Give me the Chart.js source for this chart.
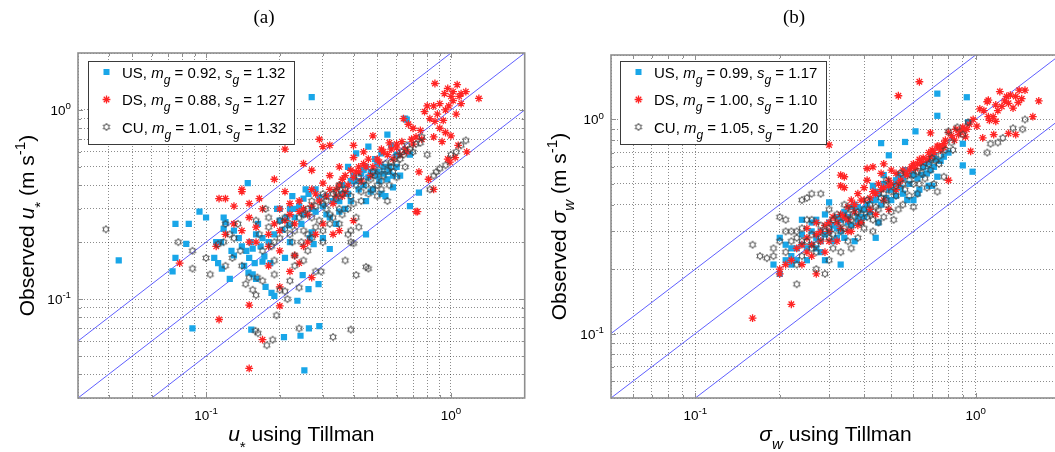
<!DOCTYPE html>
<html>
<head>
<meta charset="utf-8">
<script src="https://cdn.jsdelivr.net/npm/chart.js@4.4.1/dist/chart.umd.min.js"></script>
<style>
  html, body { margin: 0; padding: 0; background: #fff; overflow: hidden; }
  body { width: 1055px; height: 452px; position: relative; }
  .panel { position: absolute; top: 0; }
  #panelA { left: 0; }
  #panelB { left: 530px; }
</style>
</head>
<body>
<div class="panel" id="panelA"><canvas id="chartA" width="530" height="452"></canvas></div>
<div class="panel" id="panelB"><canvas id="chartB" width="540" height="452"></canvas></div>
<script>
// friction velocity, observed vs Tillman estimate
const usA = [[0.044,0.16],[0.073,0.14],[0.075,0.25],[0.085,0.25],[0.075,0.165],[0.083,0.196],[0.094,0.29],[0.1,0.27],[0.088,0.07],[0.11,0.2],[0.115,0.2],[0.108,0.165],[0.112,0.155],[0.116,0.145],[0.118,0.27],[0.12,0.255],[0.118,0.235],[0.125,0.128],[0.127,0.18],[0.13,0.23],[0.136,0.21],[0.149,0.138],[0.143,0.15],[0.148,0.41],[0.146,0.18],[0.15,0.165],[0.152,0.2],[0.155,0.185],[0.158,0.155],[0.16,0.22],[0.163,0.25],[0.167,0.19],[0.17,0.158],[0.173,0.168],[0.175,0.116],[0.18,0.2],[0.183,0.155],[0.19,0.22],[0.195,0.3],[0.2,0.3],[0.205,0.232],[0.21,0.165],[0.213,0.27],[0.218,0.245],[0.225,0.35],[0.232,0.3],[0.24,0.31],[0.245,0.25],[0.25,0.34],[0.255,0.38],[0.262,0.36],[0.265,0.21],[0.27,0.225],[0.275,0.195],[0.28,0.38],[0.29,0.345],[0.3,0.21],[0.31,0.35],[0.32,0.27],[0.32,0.184],[0.34,0.25],[0.35,0.29],[0.36,0.4],[0.37,0.3],[0.38,0.5],[0.39,0.33],[0.41,0.59],[0.4,0.45],[0.42,0.38],[0.43,0.46],[0.45,0.33],[0.45,0.22],[0.46,0.64],[0.46,0.44],[0.47,0.37],[0.48,0.38],[0.49,0.55],[0.5,0.52],[0.51,0.42],[0.52,0.59],[0.52,0.36],[0.54,0.35],[0.55,0.43],[0.55,0.74],[0.56,0.5],[0.57,0.65],[0.58,0.39],[0.6,0.5],[0.62,0.45],[0.65,0.9],[0.66,0.89],[0.68,0.58],[0.68,0.31],[0.74,0.365],[0.27,1.17],[0.252,0.042],[0.153,0.069],[0.208,0.063],[0.243,0.064],[0.263,0.07],[0.29,0.072],[0.19,0.104],[0.236,0.098],[0.262,0.113],[0.288,0.12],[0.248,0.134],[0.185,0.108],[0.155,0.135],[0.16,0.128],[0.22,0.2],[0.23,0.27],[0.28,0.29],[0.3,0.31],[0.33,0.33],[0.36,0.36],[0.4,0.42],[0.44,0.48],[0.5,0.47],[0.53,0.5],[0.35,0.33],[0.38,0.36],[0.42,0.42],[0.44,0.4],[0.47,0.47],[0.5,0.45],[0.53,0.46],[0.56,0.47],[0.58,0.45],[0.6,0.58],[0.31,0.28],[0.27,0.3],[0.25,0.28],[0.22,0.3],[0.2,0.26],[0.17,0.21],[0.14,0.19],[0.13,0.17],[0.45,0.5],[0.39,0.42]];
const dsA = [[0.86,1.38],[0.94,1.22],[0.97,1.3],[1.0,1.18],[1.02,1.12],[1.06,1.36],[1.08,1.18],[1.1,1.22],[1.15,1.25],[1.3,1.15],[0.85,1.05],[0.9,1.08],[0.95,1.0],[0.88,0.95],[0.82,0.9],[0.86,0.87],[0.9,0.8],[0.95,0.76],[1.0,0.73],[0.85,0.72],[0.92,0.68],[1.1,1.08],[1.05,0.95],[0.8,1.05],[0.78,0.98],[0.98,1.05],[1.02,1.25],[0.93,0.88],[0.64,0.9],[0.67,0.84],[0.72,0.72],[0.76,0.7],[0.7,0.66],[0.66,0.6],[0.6,0.63],[0.56,0.67],[0.52,0.62],[0.48,0.73],[0.44,0.6],[0.4,0.56],[1.16,0.6],[0.74,0.47],[0.81,0.43],[0.85,0.38],[0.73,0.29],[0.97,0.55],[1.04,0.56],[0.99,0.53],[1.07,0.65],[0.42,0.5],[0.4,0.44],[0.38,0.4],[0.36,0.43],[0.34,0.38],[0.31,0.35],[0.32,0.45],[0.3,0.41],[0.28,0.36],[0.27,0.38],[0.25,0.3],[0.24,0.33],[0.22,0.28],[0.2,0.3],[0.21,0.26],[0.19,0.25],[0.17,0.3],[0.165,0.34],[0.15,0.32],[0.14,0.37],[0.12,0.34],[0.13,0.31],[0.113,0.34],[0.14,0.38],[0.19,0.43],[0.21,0.37],[0.29,0.7],[0.32,0.65],[0.4,0.65],[0.21,0.62],[0.3,0.64],[0.25,0.52],[0.27,0.48],[0.35,0.5],[0.45,0.5],[0.5,0.55],[0.55,0.58],[0.58,0.55],[0.62,0.58],[0.47,0.45],[0.43,0.42],[0.36,0.35],[0.33,0.32],[0.26,0.28],[0.23,0.25],[0.2,0.23],[0.18,0.22],[0.16,0.24],[0.15,0.27],[0.16,0.2],[0.18,0.19],[0.14,0.23],[0.13,0.25],[0.12,0.22],[0.11,0.19],[0.15,0.2],[0.15,0.093],[0.113,0.078],[0.15,0.043],[0.2,0.092],[0.17,0.061],[0.2,0.116],[0.078,0.155],[0.27,0.13],[0.24,0.155],[0.25,0.19],[0.33,0.22],[0.35,0.23],[0.4,0.26],[0.72,0.29],[0.26,0.2],[0.23,0.17],[0.3,0.25],[0.28,0.22],[0.2,0.18],[0.18,0.15],[0.22,0.14],[0.32,0.38],[0.35,0.4],[0.37,0.45],[0.39,0.48],[0.41,0.47],[0.44,0.52],[0.46,0.55],[0.48,0.5],[0.51,0.53],[0.53,0.6],[0.57,0.62],[0.6,0.66],[0.63,0.68],[0.65,0.62],[0.69,0.7],[0.7,0.8],[0.75,0.78],[0.29,0.33],[0.27,0.31],[0.24,0.29],[0.22,0.32],[0.34,0.35],[0.37,0.37],[0.42,0.47]];
const cuA = [[0.039,0.234],[0.077,0.2],[0.088,0.18],[0.088,0.145],[0.1,0.165],[0.104,0.135],[0.112,0.195],[0.118,0.2],[0.125,0.22],[0.128,0.165],[0.138,0.18],[0.145,0.12],[0.15,0.13],[0.155,0.112],[0.16,0.105],[0.162,0.13],[0.17,0.125],[0.165,0.22],[0.175,0.3],[0.18,0.27],[0.185,0.19],[0.19,0.16],[0.19,0.135],[0.2,0.112],[0.2,0.21],[0.21,0.235],[0.21,0.27],[0.22,0.25],[0.225,0.2],[0.23,0.17],[0.24,0.115],[0.245,0.2],[0.25,0.28],[0.26,0.3],[0.27,0.27],[0.28,0.24],[0.28,0.14],[0.295,0.14],[0.3,0.2],[0.3,0.32],[0.31,0.3],[0.32,0.28],[0.33,0.36],[0.34,0.34],[0.35,0.3],[0.36,0.36],[0.37,0.16],[0.38,0.22],[0.39,0.2],[0.4,0.32],[0.41,0.27],[0.42,0.24],[0.41,0.134],[0.45,0.148],[0.46,0.145],[0.39,0.23],[0.4,0.197],[0.46,0.36],[0.48,0.38],[0.5,0.4],[0.52,0.42],[0.55,0.48],[0.55,0.33],[0.58,0.47],[0.6,0.52],[0.62,0.55],[0.64,0.58],[0.68,0.62],[0.7,0.6],[0.75,0.67],[0.8,0.58],[0.85,0.45],[0.87,0.47],[0.9,0.49],[0.95,0.51],[1.0,0.58],[1.05,0.6],[1.1,0.65],[1.15,0.69],[0.82,0.38],[0.76,0.72],[0.159,0.068],[0.163,0.066],[0.177,0.057],[0.187,0.061],[0.194,0.082],[0.24,0.07],[0.33,0.063],[0.39,0.069],[0.21,0.11],[0.215,0.1],[0.22,0.125],[0.23,0.15],[0.25,0.16],[0.26,0.22],[0.29,0.26],[0.33,0.27],[0.36,0.28],[0.38,0.3],[0.43,0.33],[0.45,0.4],[0.5,0.35],[0.52,0.38],[0.56,0.4],[0.6,0.44],[0.28,0.31],[0.23,0.23],[0.19,0.2],[0.17,0.18],[0.14,0.15],[0.12,0.15],[0.13,0.21],[0.2,0.26],[0.24,0.27],[0.3,0.36],[0.35,0.4],[0.42,0.44],[0.48,0.47],[0.53,0.45],[0.57,0.53],[0.65,0.5],[0.3,0.23],[0.26,0.18],[0.18,0.24],[0.16,0.26],[0.135,0.25],[0.12,0.25],[0.31,0.33],[0.34,0.37],[0.37,0.38],[0.39,0.35],[0.41,0.4],[0.44,0.42],[0.47,0.43],[0.49,0.45],[0.51,0.48],[0.54,0.52],[0.57,0.5],[0.6,0.57],[0.63,0.6],[0.66,0.65],[0.72,0.66],[0.27,0.33],[0.25,0.23],[0.22,0.22],[0.27,0.21],[0.32,0.25],[0.35,0.25],[0.43,0.37]];

// vertical velocity std dev, observed vs Tillman estimate
const usB = [[0.73,1.32],[0.93,1.27],[0.73,1.04],[0.61,0.88],[0.56,0.785],[0.46,0.775],[0.49,0.68],[0.9,0.77],[0.9,0.61],[0.975,0.57],[0.94,0.97],[0.68,0.49],[0.73,0.54],[0.6,0.42],[0.62,0.45],[0.71,0.68],[0.47,0.55],[0.43,0.49],[0.7,0.49],[0.44,0.28],[0.45,0.33],[0.52,0.52],[0.38,0.39],[0.3,0.41],[0.36,0.39],[0.2,0.28],[0.19,0.21],[0.2,0.19],[0.21,0.22],[0.22,0.23],[0.23,0.25],[0.24,0.26],[0.24,0.34],[0.26,0.3],[0.27,0.34],[0.29,0.36],[0.29,0.22],[0.33,0.21],[0.28,0.24],[0.32,0.28],[0.33,0.3],[0.34,0.28],[0.37,0.27],[0.44,0.42],[0.49,0.47],[0.54,0.48],[0.67,0.56],[0.71,0.6],[0.77,0.67],[0.65,0.6],[0.62,0.53],[0.58,0.5],[0.55,0.45],[0.52,0.44],[0.5,0.42],[0.48,0.43],[0.46,0.4],[0.42,0.37],[0.4,0.35],[0.38,0.33],[0.36,0.32],[0.35,0.35],[0.33,0.34],[0.31,0.32],[0.3,0.3],[0.28,0.3],[0.27,0.28],[0.26,0.26],[0.25,0.25],[0.23,0.22],[0.22,0.25],[0.21,0.26],[0.24,0.29],[0.26,0.33],[0.29,0.29],[0.31,0.27],[0.32,0.31],[0.34,0.37],[0.37,0.4],[0.39,0.38],[0.41,0.4],[0.44,0.46],[0.47,0.5],[0.53,0.55],[0.56,0.58],[0.6,0.55],[0.66,0.62],[0.69,0.58],[0.72,0.65],[0.57,0.42],[0.63,0.47],[0.3,0.33],[0.32,0.35],[0.35,0.33],[0.38,0.35],[0.4,0.38],[0.43,0.42],[0.45,0.45],[0.5,0.47],[0.52,0.5],[0.55,0.53],[0.59,0.56],[0.64,0.55],[0.68,0.63],[0.75,0.64],[0.8,0.7],[0.22,0.21],[0.25,0.22],[0.27,0.25],[0.28,0.27]];
const dsB = [[0.63,1.5],[0.53,1.29],[0.3,0.76],[0.34,0.54],[0.34,0.48],[0.16,0.118],[0.22,0.137],[0.27,0.19],[0.2,0.19],[0.21,0.21],[1.68,1.22],[1.6,1.03],[1.5,1.37],[1.43,1.37],[1.39,1.28],[1.31,1.19],[1.24,1.15],[1.18,1.17],[1.11,1.23],[1.07,1.1],[1.11,1.03],[1.18,0.98],[1.31,0.86],[1.39,0.85],[1.16,0.85],[0.96,0.71],[0.91,0.89],[0.84,0.8],[0.8,0.87],[0.77,0.77],[0.73,0.75],[0.69,0.67],[0.65,0.66],[0.62,0.62],[0.59,0.6],[0.55,0.58],[0.52,0.56],[0.49,0.52],[0.46,0.56],[0.43,0.6],[0.41,0.52],[0.4,0.48],[0.38,0.45],[0.36,0.42],[0.35,0.39],[0.33,0.36],[0.31,0.35],[0.3,0.33],[0.28,0.3],[0.27,0.29],[0.25,0.28],[0.24,0.26],[0.23,0.25],[0.49,0.38],[0.42,0.38],[0.39,0.33],[0.36,0.3],[0.3,0.27],[0.8,0.52],[1.36,1.13],[1.06,0.82],[0.69,0.865],[0.41,0.59],[0.33,0.55],[0.33,0.49],[1.035,1.12],[1.1,1.21],[1.22,1.35],[1.29,1.28],[1.46,1.25],[1.155,1.03],[1.12,0.99],[1.01,0.93],[0.95,0.95],[0.9,0.92],[0.87,0.85],[0.85,0.9],[0.92,0.83],[0.78,0.8],[0.75,0.72],[0.7,0.72],[0.68,0.7],[0.63,0.65],[0.6,0.62],[0.57,0.55],[0.54,0.52],[0.5,0.5],[0.47,0.48],[0.45,0.5],[0.44,0.45],[0.42,0.43],[0.39,0.42],[0.37,0.37],[0.34,0.35],[0.32,0.33],[0.29,0.32],[0.28,0.27],[0.26,0.26],[0.25,0.24],[0.22,0.22],[0.2,0.2],[0.24,0.21],[0.26,0.23],[0.29,0.24],[0.32,0.27],[0.35,0.3],[0.38,0.32],[0.44,0.36],[0.47,0.42],[0.52,0.47],[0.5,0.58],[0.47,0.62],[0.27,0.33],[0.25,0.31],[0.3,0.3],[0.33,0.31],[0.35,0.34],[0.37,0.4],[0.4,0.42],[0.43,0.46],[0.46,0.47],[0.49,0.49],[0.53,0.5],[0.56,0.56],[0.58,0.58],[0.61,0.59],[0.64,0.63],[0.67,0.65],[0.71,0.7],[0.74,0.75],[0.77,0.74],[0.82,0.84],[0.88,0.88],[0.93,0.9],[0.98,1.0],[1.2,1.1],[1.27,1.22],[1.33,1.3],[1.42,1.2]];
const cuB = [[0.16,0.26],[0.17,0.23],[0.18,0.225],[0.2,0.35],[0.21,0.34],[0.21,0.3],[0.22,0.27],[0.23,0.21],[0.23,0.17],[0.24,0.42],[0.25,0.43],[0.26,0.45],[0.28,0.45],[0.29,0.19],[0.27,0.24],[0.31,0.29],[0.31,0.25],[0.36,0.25],[0.47,0.35],[0.51,0.34],[0.53,0.38],[0.6,0.39],[0.67,0.48],[0.73,0.46],[0.77,0.54],[0.83,0.72],[0.94,0.97],[0.86,0.92],[1.5,1.0],[1.47,0.9],[1.36,0.91],[1.25,0.82],[1.2,0.78],[1.13,0.77],[1.1,0.7],[0.71,0.5],[0.54,0.56],[0.47,0.45],[0.41,0.42],[0.41,0.35],[0.48,0.52],[0.36,0.34],[0.43,0.34],[0.22,0.3],[0.23,0.28],[0.24,0.31],[0.25,0.27],[0.26,0.29],[0.27,0.26],[0.28,0.32],[0.29,0.3],[0.3,0.31],[0.31,0.34],[0.32,0.36],[0.33,0.33],[0.34,0.31],[0.35,0.36],[0.36,0.38],[0.37,0.35],[0.38,0.37],[0.39,0.36],[0.4,0.38],[0.42,0.4],[0.44,0.39],[0.46,0.43],[0.48,0.42],[0.5,0.46],[0.52,0.49],[0.55,0.5],[0.58,0.52],[0.6,0.55],[0.62,0.57],[0.65,0.6],[0.68,0.62],[0.7,0.66],[0.72,0.64],[0.75,0.68],[0.78,0.72],[0.82,0.78],[0.8,0.88],[0.9,0.85],[0.2,0.27],[0.19,0.25],[0.21,0.24],[0.24,0.23],[0.27,0.2],[0.3,0.22],[0.33,0.24],[0.35,0.27],[0.38,0.28],[0.4,0.31],[0.43,0.3],[0.45,0.33],[0.5,0.37],[0.55,0.4],[0.58,0.44],[0.63,0.5],[0.66,0.53],[0.62,0.45],[0.26,0.34],[0.3,0.38],[0.34,0.4],[0.28,0.28],[0.3,0.28],[0.33,0.3],[0.36,0.32],[0.39,0.33],[0.42,0.36],[0.45,0.38],[0.48,0.4],[0.52,0.44],[0.56,0.47],[0.6,0.5],[0.64,0.56],[0.69,0.58],[0.74,0.62],[0.24,0.27],[0.26,0.25],[0.23,0.3],[0.25,0.34],[0.19,0.23]];

// legend statistics (geometric mean / spread of the ratio)
const seriesNames = ['US', 'DS', 'CU'];
const mgA = [0.92, 0.88, 1.01];
const sgA = [1.32, 1.27, 1.32];
const mgB = [0.99, 1.00, 1.05];
const sgB = [1.17, 1.10, 1.20];

// 1:2, 1:1 and 2:1 reference lines
const ratios = [0.5, 1, 2];

// axis limits and log tick positions
const limA = [0.03, 2];
const limB = [0.05, 2];
const ticksA = [0.03, 0.04, 0.05, 0.06, 0.07, 0.08, 0.09, 0.1, 0.2, 0.3, 0.4, 0.5, 0.6, 0.7, 0.8, 0.9, 1, 2];
const ticksB = [0.05, 0.06, 0.07, 0.08, 0.09, 0.1, 0.2, 0.3, 0.4, 0.5, 0.6, 0.7, 0.8, 0.9, 1, 2];
const decades = [0.1, 1];
const decadeExp = ['-1', '0'];

const SANS = '"Liberation Sans", Arial, Helvetica, sans-serif';
const SERIF = '"Liberation Serif", "Times New Roman", serif';
const usColor = '#19a6e8';
const dsColor = '#ff2424';
const cuColor = '#3c3c3c';
const lineBlue = 'rgb(95,95,255)';
const frameGray = '#8e8e8e';

function hexagram(color) {
  const c = document.createElement('canvas');
  c.width = 10; c.height = 10;
  const g = c.getContext('2d');
  g.strokeStyle = color;
  g.lineWidth = 0.9;
  g.beginPath();
  for (let i = 0; i < 12; i++) {
    const r = i % 2 ? 2.1 : 3.7;
    const ang = -Math.PI / 2 + i * Math.PI / 6;
    const px = 5 + r * Math.cos(ang), py = 5 + r * Math.sin(ang);
    if (i) g.lineTo(px, py); else g.moveTo(px, py);
  }
  g.closePath();
  g.stroke();
  return c;
}
const cuMarker = hexagram(cuColor);

const toPts = arr => arr.map(([x, y]) => ({ x, y }));

// rich text: italic, sub and superscript runs
function fontFor(p, size) {
  const s = (p.sub || p.sup) ? size * (p.k || 0.72) : size;
  return (p.it ? 'italic ' : '') + s.toFixed(1) + 'px ' + SANS;
}
function richWidth(ctx, parts, size) {
  let w = 0;
  for (const p of parts) { ctx.font = fontFor(p, size); w += ctx.measureText(p.t).width; }
  return w;
}
function drawRich(ctx, parts, x, y, size) {
  for (const p of parts) {
    ctx.font = fontFor(p, size);
    const dy = p.sub ? size * (p.dy || 0.38) : p.sup ? -size * 0.42 : 0;
    ctx.fillText(p.t, x, y + dy);
    x += ctx.measureText(p.t).width;
  }
  return x;
}

function legendParts(name, mg, sg) {
  return [
    { t: name + ', ' }, { t: 'm', it: 1 }, { t: 'g', it: 1, sub: 1, k: 0.8, dy: 0.42 },
    { t: ' = ' + mg.toFixed(2) + ', ' }, { t: 's', it: 1 }, { t: 'g', it: 1, sub: 1, k: 0.8, dy: 0.42 },
    { t: ' = ' + sg.toFixed(2) }
  ];
}

function drawMarker(ctx, kind, x, y) {
  ctx.save();
  if (kind === 0) {
    ctx.fillStyle = usColor;
    ctx.fillRect(x - 3, y - 3, 6, 6);
  } else if (kind === 1) {
    ctx.strokeStyle = dsColor;
    ctx.lineWidth = 1.3;
    ctx.beginPath();
    const r = 3.9, d = r * Math.SQRT1_2;
    ctx.moveTo(x - r, y); ctx.lineTo(x + r, y);
    ctx.moveTo(x, y - r); ctx.lineTo(x, y + r);
    ctx.moveTo(x - d, y - d); ctx.lineTo(x + d, y + d);
    ctx.moveTo(x - d, y + d); ctx.lineTo(x + d, y - d);
    ctx.stroke();
  } else {
    ctx.drawImage(cuMarker, x - 5, y - 5);
  }
  ctx.restore();
}

// frame, tick marks, decade labels, titles and legend
const decorations = {
  id: 'decorations',
  afterDraw(chart, args, o) {
    const { ctx, chartArea: a, scales: { x, y } } = chart;
    ctx.save();

    // inward ticks on all four sides
    ctx.strokeStyle = frameGray;
    ctx.lineWidth = 1;
    ctx.beginPath();
    o.ticks.forEach(v => {
      const len = decades.includes(v) ? 5 : 3;
      const px = Math.round(x.getPixelForValue(v)) + 0.5;
      if (px > a.left + 1 && px < a.right - 1) {
        ctx.moveTo(px, a.bottom); ctx.lineTo(px, a.bottom - len);
        ctx.moveTo(px, a.top); ctx.lineTo(px, a.top + len);
      }
      const py = Math.round(y.getPixelForValue(v)) + 0.5;
      if (py > a.top + 1 && py < a.bottom - 1) {
        ctx.moveTo(a.left, py); ctx.lineTo(a.left + len, py);
        ctx.moveTo(a.right, py); ctx.lineTo(a.right - len, py);
      }
    });
    ctx.stroke();

    ctx.lineWidth = 1.6;
    ctx.strokeRect(a.left, a.top, a.right - a.left, a.bottom - a.top);

    // decade labels 10^n
    ctx.fillStyle = '#000';
    ctx.textAlign = 'left';
    ctx.textBaseline = 'alphabetic';
    decades.forEach((v, i) => {
      const parts = [{ t: '10' }, { t: decadeExp[i], sup: 1 }];
      const w = richWidth(ctx, parts, 13.5);
      const px = x.getPixelForValue(v);
      drawRich(ctx, parts, px - w / 2, 420, 13.5);
      const py = y.getPixelForValue(v);
      drawRich(ctx, parts, a.left - 7 - w, py + 5, 13.5);
    });

    // axis titles
    const xw = richWidth(ctx, o.xTitle, 21);
    drawRich(ctx, o.xTitle, (a.left + a.right) / 2 - xw / 2, 441, 21);
    ctx.save();
    ctx.translate(o.yTitleX, (a.top + a.bottom) / 2);
    ctx.rotate(-Math.PI / 2);
    const yw = richWidth(ctx, o.yTitle, 21);
    drawRich(ctx, o.yTitle, -yw / 2, 0, 21);
    ctx.restore();

    // panel tag
    ctx.font = '19px ' + SERIF;
    ctx.textAlign = 'center';
    ctx.fillText(o.tag, o.tagX, 23);
    ctx.textAlign = 'left';

    // legend box
    const L = o.legend;
    ctx.fillStyle = '#fff';
    ctx.fillRect(L.x, L.y, L.w, L.h);
    ctx.strokeStyle = '#3a3a3a';
    ctx.lineWidth = 1;
    ctx.strokeRect(L.x + 0.5, L.y + 0.5, L.w, L.h);
    ctx.fillStyle = '#000';
    seriesNames.forEach((name, i) => {
      const cy = L.y + 11 + i * 27.5;
      drawMarker(ctx, i, L.x + 18.5, cy);
      drawRich(ctx, legendParts(name, o.mg[i], o.sg[i]), L.x + 34, cy + 5.5, 15);
    });

    ctx.restore();
  }
};

function logAxis(lim, ticks, horizontal) {
  return {
    type: 'logarithmic',
    min: lim[0],
    max: lim[1],
    afterBuildTicks: s => { s.ticks = ticks.map(v => ({ value: v })); },
    afterFit: s => { if (horizontal) s.height = 0; else s.width = 0; },
    ticks: { display: false },
    grid: { color: 'rgba(0,0,0,0.45)', lineWidth: 1, drawTicks: false },
    border: { display: false, dash: [1, 2] }
  };
}

function makeChart(id, cfg) {
  const lines = ratios.map(r => ({
    data: [{ x: cfg.lim[0] / 4, y: cfg.lim[0] / 4 * r }, { x: cfg.lim[1] * 4, y: cfg.lim[1] * 4 * r }],
    showLine: true,
    borderColor: lineBlue,
    borderWidth: 1,
    pointRadius: 0,
    order: 10
  }));
  return new Chart(document.getElementById(id).getContext('2d'), {
    type: 'scatter',
    data: {
      datasets: [
        ...lines,
        { label: 'US', data: toPts(cfg.us), pointStyle: 'rect', pointRadius: 4.4, backgroundColor: usColor, borderWidth: 0, order: 3 },
        { label: 'DS', data: toPts(cfg.ds), pointStyle: 'star', pointRadius: 3.9, borderColor: dsColor, backgroundColor: dsColor, borderWidth: 1.3, order: 2 },
        { label: 'CU', data: toPts(cfg.cu), pointStyle: cuMarker, pointRadius: 4, order: 1 }
      ]
    },
    options: {
      responsive: false,
      animation: false,
      events: [],
      layout: { padding: cfg.pad },
      plugins: {
        legend: { display: false },
        tooltip: { enabled: false },
        decorations: cfg.deco
      },
      scales: {
        x: logAxis(cfg.lim, cfg.ticks, true),
        y: logAxis(cfg.lim, cfg.ticks, false)
      }
    },
    plugins: [decorations]
  });
}

makeChart('chartA', {
  us: usA, ds: dsA, cu: cuA, lim: limA, ticks: ticksA,
  pad: { left: 78, right: 2, top: 53, bottom: 54 },
  deco: {
    ticks: ticksA, tag: '(a)', tagX: 264, yTitleX: 34,
    xTitle: [{ t: 'u', it: 1 }, { t: '*', sub: 1, dy: 0.5 }, { t: ' using Tillman' }],
    yTitle: [{ t: 'Observed ' }, { t: 'u', it: 1 }, { t: '*', sub: 1, dy: 0.5 }, { t: ' (m s' }, { t: '-1', sup: 1 }, { t: ')' }],
    legend: { x: 88, y: 61, w: 206, h: 83 }, mg: mgA, sg: sgA
  }
});

makeChart('chartB', {
  us: usB, ds: dsB, cu: cuB, lim: limB, ticks: ticksB,
  pad: { left: 81, right: 10, top: 55, bottom: 54 },
  deco: {
    ticks: ticksB, tag: '(b)', tagX: 264, yTitleX: 36,
    xTitle: [{ t: 'σ', it: 1 }, { t: 'w', it: 1, sub: 1 }, { t: ' using Tillman' }],
    yTitle: [{ t: 'Observed ' }, { t: 'σ', it: 1 }, { t: 'w', it: 1, sub: 1 }, { t: ' (m s' }, { t: '-1', sup: 1 }, { t: ')' }],
    legend: { x: 90, y: 61, w: 206, h: 83 }, mg: mgB, sg: sgB
  }
});
</script>
</body>
</html>
